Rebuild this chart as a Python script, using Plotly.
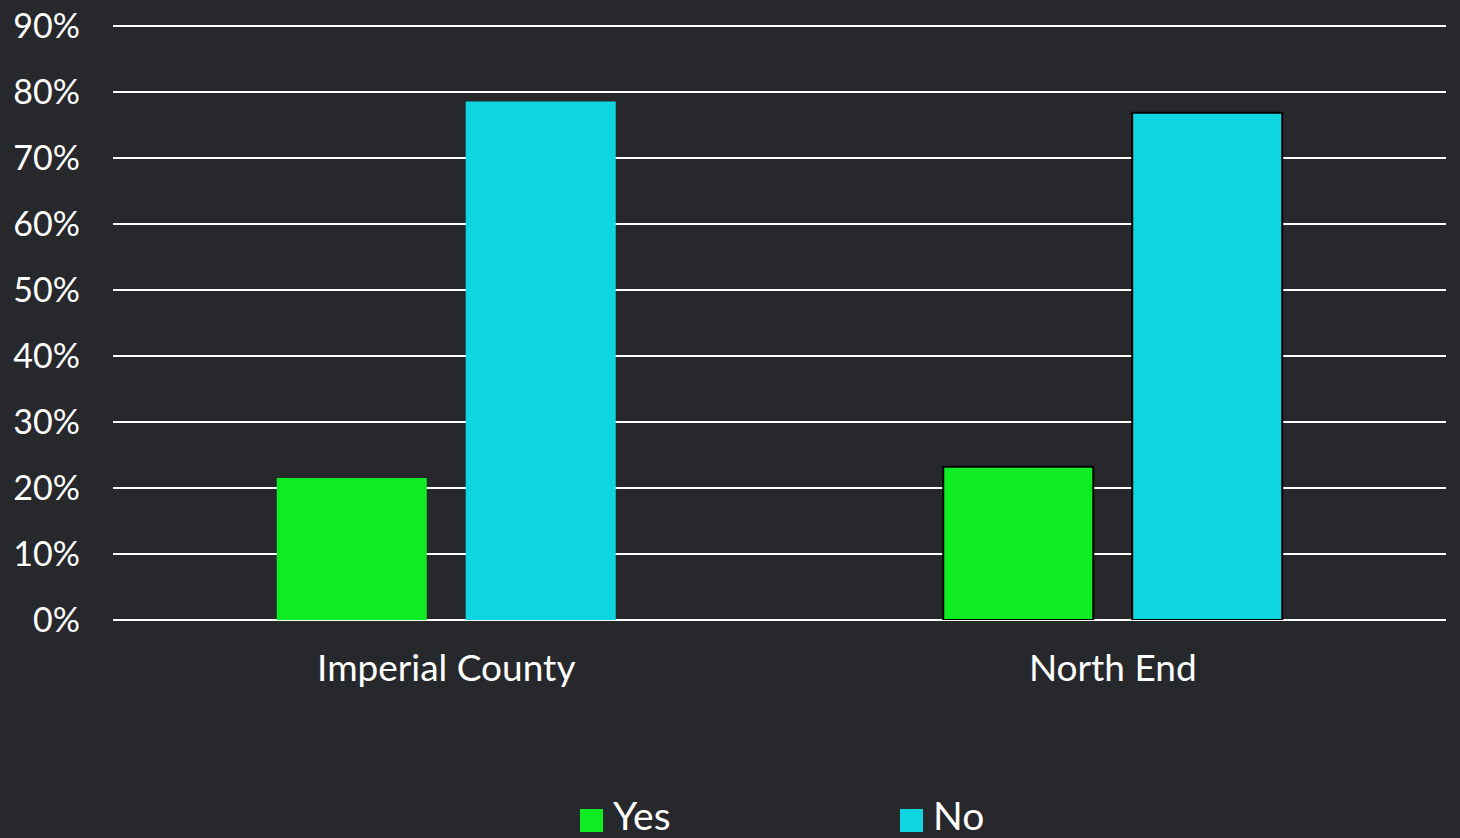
import plotly.graph_objects as go

categories = ["Imperial County", "North End"]
yes_values = [0.215, 0.232]
no_values = [0.785, 0.768]
series_names = ["Yes", "No"]
series_colors = ["#0fec24", "#0fd5e1"]
outline_widths = [0, 2]
tick_values = [0, 0.1, 0.2, 0.3, 0.4, 0.5, 0.6, 0.7, 0.8, 0.9]

BG = "#27282b"
FONT = "Lato, 'Noto Sans', sans-serif"

fig = go.Figure()
for name, vals, col in zip(series_names, [yes_values, no_values], series_colors):
    fig.add_trace(go.Bar(
        x=categories, y=vals, name=name,
        marker=dict(color=col, line=dict(color="#000000", width=outline_widths)),
        showlegend=False,
    ))

W, H = 1460, 838
ml, mr, mt, mb = 113, 14, 19, 218
pw, ph = W - ml - mr, H - mt - mb

def px(x):
    return (x - ml) / pw

def py(y):
    return (H - mb - y) / ph

shapes = []
annotations = []
legend_items = [(580, 613), (900, 933)]
for (mx, tx), name, col in zip(legend_items, series_names, series_colors):
    shapes.append(dict(type="rect", xref="paper", yref="paper",
                       x0=px(mx), x1=px(mx + 23), y0=py(832), y1=py(809),
                       fillcolor=col, line=dict(width=0)))
    annotations.append(dict(text=name, xref="paper", yref="paper",
                            x=px(tx - 2), y=py(815), xanchor="left", yanchor="middle",
                            showarrow=False,
                            font=dict(family=FONT, size=39, color="#ffffff")))

fig.update_layout(
    width=W, height=H,
    margin=dict(l=ml, r=mr, t=mt, b=mb, autoexpand=False),
    paper_bgcolor=BG, plot_bgcolor=BG,
    barmode="group", bargap=0.433, bargroupgap=0.206,
    font=dict(family=FONT, color="#ffffff"),
    shapes=shapes, annotations=annotations,
    xaxis=dict(showgrid=False, showline=False, zeroline=False, automargin=False,
               tickfont=dict(size=37, color="#ffffff"),
               ticklabelstandoff=23),
    yaxis=dict(range=[0, 0.91], tickvals=tick_values, tickformat=".0%",
               automargin=False,
               showgrid=True, gridcolor="#ffffff", gridwidth=2,
               zeroline=True, zerolinecolor="#ffffff", zerolinewidth=2,
               showline=False,
               tickfont=dict(size=34, color="#ffffff"),
               ticklabelstandoff=32),
)

fig.write_html("out.html", config={"displayModeBar": False})
with open("out.html", "r", encoding="utf-8") as f:
    html = f.read()
html = html.replace("<head>", "<head><style>html,body{margin:0;padding:0;background:%s;overflow:hidden;}</style>" % BG, 1)
with open("out.html", "w", encoding="utf-8") as f:
    f.write(html)
